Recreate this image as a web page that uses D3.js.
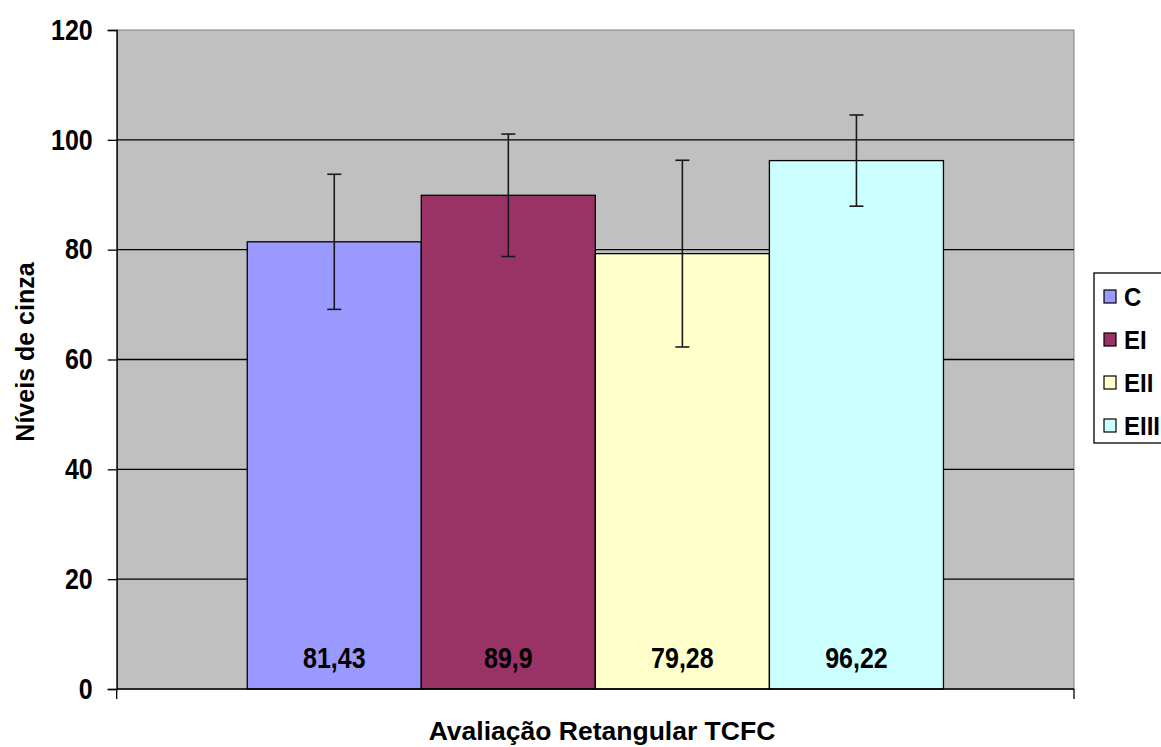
<!DOCTYPE html>
<html>
<head>
<meta charset="utf-8">
<script src="https://cdn.jsdelivr.net/npm/d3@7"></script>
<style>
  html, body { margin: 0; padding: 0; background: #fff; }
  svg { display: block; font-family: "Liberation Sans", Arial, sans-serif; }
</style>
</head>
<body>
<svg id="chart" width="1161" height="747"></svg>
<script>
// Grey levels per group (rectangular CBCT evaluation)
const series = ["C", "EI", "EII", "EIII"];
const means = [81.43, 89.9, 79.28, 96.22];
const errors = [12.3, 11.15, 17.0, 8.3];
const valueLabels = ["81,43", "89,9", "79,28", "96,22"];
const colors = ["#9999ff", "#993366", "#ffffcc", "#ccffff"];
const yTicks = [0, 20, 40, 60, 80, 100, 120];
const xTitle = "Avaliação Retangular TCFC";
const yTitle = "Níveis de cinza";

const svg = d3.select("#chart");
const plot = { left: 116.7, right: 1074, top: 30, bottom: 689 };
const stretch = 1.15; // labels are drawn slightly taller than wide

const y = d3.scaleLinear().domain([0, 120]).range([plot.bottom, plot.top]);
const x = d3.scaleBand()
  .domain(series)
  .range([plot.left, plot.right])
  .paddingInner(0)
  .paddingOuter(0.75);

// plot background
svg.append("rect")
  .attr("x", plot.left).attr("y", plot.top)
  .attr("width", plot.right - plot.left).attr("height", plot.bottom - plot.top)
  .attr("fill", "#c0c0c0")
  .attr("stroke", "#808080").attr("stroke-width", 1);

// horizontal gridlines
svg.append("g").selectAll("line")
  .data(yTicks.filter(t => t > 0 && t < 120))
  .join("line")
  .attr("x1", plot.left).attr("x2", plot.right)
  .attr("y1", d => y(d)).attr("y2", d => y(d))
  .attr("stroke", "#000").attr("stroke-width", 1.3);

// bars
svg.append("g").selectAll("rect")
  .data(series)
  .join("rect")
  .attr("x", d => x(d))
  .attr("y", (d, i) => y(means[i]))
  .attr("width", x.bandwidth())
  .attr("height", (d, i) => y(0) - y(means[i]))
  .attr("fill", (d, i) => colors[i])
  .attr("stroke", "#000").attr("stroke-width", 1.3);

// error bars
const eb = svg.append("g").attr("stroke", "#1a1a1a").attr("stroke-width", 1.6);
series.forEach((s, i) => {
  const cx = x(s) + x.bandwidth() / 2;
  const hi = y(means[i] + errors[i]);
  const lo = y(means[i] - errors[i]);
  eb.append("line").attr("x1", cx).attr("x2", cx).attr("y1", hi).attr("y2", lo);
  eb.append("line").attr("x1", cx - 7).attr("x2", cx + 7).attr("y1", hi).attr("y2", hi);
  eb.append("line").attr("x1", cx - 7).attr("x2", cx + 7).attr("y1", lo).attr("y2", lo);
});

// value labels near the base of each bar
svg.append("g").selectAll("text")
  .data(series)
  .join("text")
  .attr("transform", d => `translate(${x(d) + x.bandwidth() / 2},668) scale(1,${stretch})`)
  .attr("text-anchor", "middle")
  .attr("font-size", 25)
  .attr("font-weight", "bold")
  .attr("fill", "#000")
  .text((d, i) => valueLabels[i]);

// y axis
const yAxis = svg.append("g")
  .attr("transform", `translate(${plot.left},0)`)
  .call(d3.axisLeft(y).tickValues(yTicks).tickSize(9).tickPadding(15).tickFormat(d3.format("d")));
yAxis.select(".domain").attr("stroke", "#000").attr("stroke-width", 1.3);
yAxis.selectAll(".tick line").attr("stroke", "#000").attr("stroke-width", 1.3);
yAxis.selectAll(".tick text")
  .attr("font-size", 25).attr("font-weight", "bold")
  .attr("font-family", "'Liberation Sans', Arial, sans-serif")
  .attr("fill", "#000")
  .attr("transform", `scale(1,${stretch})`);

// x axis baseline with end ticks
const xb = svg.append("g").attr("stroke", "#000").attr("stroke-width", 1.3);
xb.append("line").attr("x1", plot.left).attr("x2", plot.right).attr("y1", y(0)).attr("y2", y(0));
[plot.left, plot.right].forEach(px => {
  xb.append("line").attr("x1", px).attr("x2", px).attr("y1", y(0)).attr("y2", y(0) + 10);
});

// axis titles
svg.append("text")
  .attr("x", 602).attr("y", 740)
  .attr("text-anchor", "middle")
  .attr("font-size", 26.5).attr("font-weight", "bold")
  .text(xTitle);

svg.append("text")
  .attr("transform", "translate(34,352) rotate(-90)")
  .attr("text-anchor", "middle")
  .attr("font-size", 25).attr("font-weight", "bold")
  .text(yTitle);

// legend
const legend = svg.append("g");
legend.append("rect")
  .attr("x", 1094).attr("y", 273)
  .attr("width", 120).attr("height", 170)
  .attr("fill", "#fff").attr("stroke", "#000").attr("stroke-width", 1.3);
const ly = d3.scalePoint().domain(series).range([297, 426]);
const items = legend.selectAll("g.item").data(series).join("g").attr("class", "item");
items.append("rect")
  .attr("x", 1104).attr("y", d => ly(d) - 7)
  .attr("width", 12).attr("height", 13)
  .attr("fill", (d, i) => colors[i])
  .attr("stroke", "#000").attr("stroke-width", 1.2);
items.append("text")
  .attr("transform", d => `translate(1124,${ly(d) + 9}) scale(1,1.08)`)
  .attr("font-size", 24).attr("font-weight", "bold")
  .text(d => d);
</script>
</body>
</html>
